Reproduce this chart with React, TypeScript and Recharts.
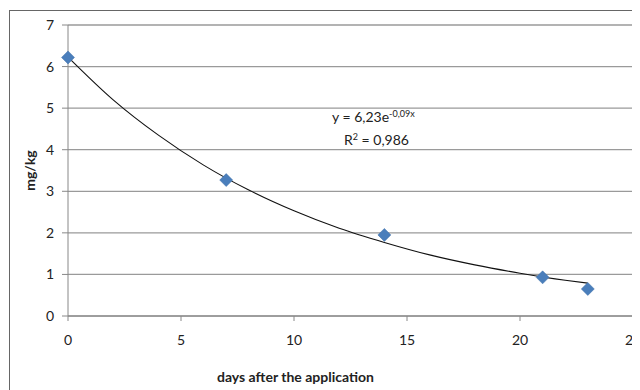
import {
  ComposedChart,
  Line,
  Scatter,
  XAxis,
  YAxis,
  CartesianGrid,
  Customized,
} from "recharts";

// measured residues (days, mg/kg)
const days = [0, 7, 14, 21, 23];
const residues = [6.22, 3.27, 1.95, 0.93, 0.65];

// exponential trend line
const trendDays = [0, 2, 4, 6, 8, 10, 12, 14, 16, 18, 20, 22, 23];
const trendValues = [6.23, 5.2, 4.35, 3.63, 3.03, 2.53, 2.11, 1.77, 1.47, 1.23, 1.03, 0.86, 0.79];

const xTicks = [0, 5, 10, 15, 20, 25];
const yTicks = [0, 1, 2, 3, 4, 5, 6, 7];

const points = days.map((d, i) => ({ x: d, y: residues[i] }));
const trend = trendDays.map((d, i) => ({ x: d, trend: trendValues[i] }));

const FONT = "Lato, 'Open Sans', sans-serif";
const MARKER = "#4a7ebb";

function Diamond(props: any) {
  const { cx, cy } = props;
  const r = 6.5;
  return (
    <polygon
      points={`${cx},${cy - r} ${cx + r},${cy} ${cx},${cy + r} ${cx - r},${cy}`}
      fill={MARKER}
      stroke="#3d6fa8"
      strokeWidth={0.5}
    />
  );
}

function Equation() {
  return (
    <g fontFamily={FONT} fontSize={14} fill="#222">
      <text x={324} y={114}>
        y = 6,23e
        <tspan dy={-5} fontSize={9}>
          -0,09x
        </tspan>
      </text>
      <text x={336} y={137}>
        R
        <tspan dy={-5} fontSize={9}>
          2
        </tspan>
        <tspan dy={5}> = 0,986</tspan>
      </text>
    </g>
  );
}

export default function App() {
  return (
    <div style={{ position: "relative", width: 632, height: 382, background: "#fff" }}>
      <div
        style={{
          position: "absolute",
          left: 1,
          top: 2,
          width: 660,
          height: 400,
          borderLeft: "1px solid #666",
          borderTop: "1px solid #666",
        }}
      />
      <div style={{ position: "absolute", left: 0, top: 0 }}>
        <ComposedChart
          width={632}
          height={382}
          data={trend}
          margin={{ top: 17, right: 7, bottom: 0, left: 0 }}
          style={{ overflow: "visible" }}
        >
          <CartesianGrid vertical={false} stroke="#9a9a9a" strokeWidth={1.3} />
          <XAxis
            type="number"
            dataKey="x"
            domain={[0, 25]}
            ticks={xTicks}
            interval={0}
            height={74}
            stroke="#888"
            tickSize={5}
            tickMargin={14}
            tick={{ fill: "#222", fontSize: 14, fontFamily: FONT }}
            label={{
              value: "days after the application",
              position: "insideBottom",
              offset: 8,
              dx: -55,
              style: { fill: "#222", fontSize: 14, fontWeight: 700, fontFamily: FONT },
            }}
          />
          <YAxis
            type="number"
            domain={[0, 7]}
            ticks={yTicks}
            interval={0}
            width={60}
            stroke="#888"
            tickSize={6}
            tickMargin={8}
            tick={{ fill: "#222", fontSize: 14, fontFamily: FONT }}
            label={{
              value: "mg/kg",
              angle: -90,
              position: "insideLeft",
              offset: 22,
              style: { fill: "#222", fontSize: 14, fontWeight: 700, fontFamily: FONT, textAnchor: "middle" },
            }}
          />
          <Line
            type="monotone"
            dataKey="trend"
            stroke="#111"
            strokeWidth={1.1}
            dot={false}
            isAnimationActive={false}
          />
          <Scatter data={points} dataKey="y" shape={<Diamond />} isAnimationActive={false} />
          <Customized component={<Equation />} />
        </ComposedChart>
      </div>
    </div>
  );
}
